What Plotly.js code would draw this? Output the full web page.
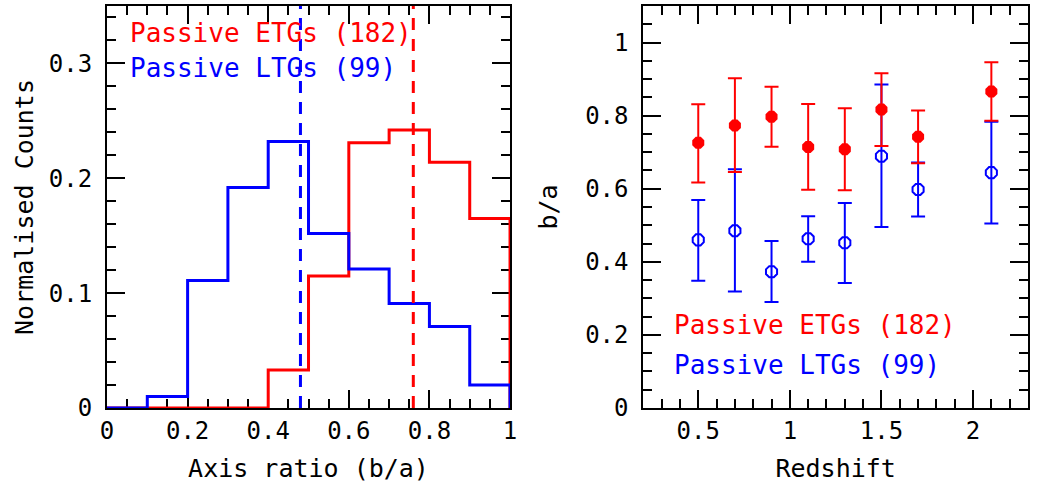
<!DOCTYPE html>
<html>
<head>
<meta charset="utf-8">
<script src="https://cdn.plot.ly/plotly-3.0.1.min.js"></script>
<style>html,body{margin:0;padding:0;background:#fff;}</style>
</head>
<body>
<div id="chart" style="width:1038px;height:491px;"></div>
<script>
// ---- Left panel: axis-ratio histograms ----
const binEdges = [0, 0.1, 0.2, 0.3, 0.4, 0.5, 0.6, 0.7, 0.8, 0.9, 1.0];
const etgFrac  = [0, 0, 0, 0, 0.033, 0.115, 0.231, 0.242, 0.214, 0.165];
const ltgFrac  = [0, 0.010, 0.111, 0.192, 0.232, 0.152, 0.121, 0.091, 0.071, 0.020];
const etgMedian = 0.76;
const ltgMedian = 0.48;

// ---- Right panel: b/a vs redshift ----
const redshift = [0.5, 0.7, 0.9, 1.1, 1.3, 1.5, 1.7, 2.1];
const etgBA = [0.726, 0.773, 0.797, 0.714, 0.708, 0.817, 0.742, 0.866];
const etgHi = [0.831, 0.902, 0.879, 0.832, 0.820, 0.916, 0.814, 0.946];
const etgLo = [0.617, 0.646, 0.715, 0.597, 0.596, 0.717, 0.670, 0.786];
const ltgBA = [0.460, 0.485, 0.373, 0.463, 0.452, 0.689, 0.598, 0.644];
const ltgHi = [0.569, 0.653, 0.457, 0.525, 0.561, 0.885, 0.672, 0.783];
const ltgLo = [0.348, 0.319, 0.290, 0.400, 0.342, 0.495, 0.524, 0.505];

const etgLabel = 'Passive ETGs (182)';
const ltgLabel = 'Passive LTGs (99)';

const RED = '#ff0000', BLUE = '#0000ff';
const FONT = 'DejaVu Sans Mono, Liberation Mono, monospace';

function stepY(frac) { return frac.concat([0]); }
function diff(a, b) { return a.map((v, i) => v - b[i]); }

const traces = [
  { x: binEdges, y: stepY(etgFrac), type: 'scatter', mode: 'lines',
    line: { shape: 'hv', color: RED, width: 3 }, cliponaxis: false,
    xaxis: 'x', yaxis: 'y', hoverinfo: 'skip' },
  { x: binEdges, y: stepY(ltgFrac), type: 'scatter', mode: 'lines',
    line: { shape: 'hv', color: BLUE, width: 3 }, cliponaxis: false,
    xaxis: 'x', yaxis: 'y', hoverinfo: 'skip' },
  { x: [ltgMedian, ltgMedian], y: [0, 0.35], type: 'scatter', mode: 'lines',
    line: { color: BLUE, width: 3, dash: '12px,9px' }, xaxis: 'x', yaxis: 'y' },
  { x: [etgMedian, etgMedian], y: [0, 0.35], type: 'scatter', mode: 'lines',
    line: { color: RED, width: 3, dash: '12px,9px' }, xaxis: 'x', yaxis: 'y' },
  { x: redshift, y: ltgBA, type: 'scatter', mode: 'markers',
    marker: { symbol: 'octagon-open', size: 12, color: BLUE, line: { width: 2, color: BLUE } },
    error_y: { type: 'data', symmetric: false, array: diff(ltgHi, ltgBA), arrayminus: diff(ltgBA, ltgLo),
               color: BLUE, thickness: 2, width: 7 },
    xaxis: 'x2', yaxis: 'y2', cliponaxis: false },
  { x: redshift, y: etgBA, type: 'scatter', mode: 'markers',
    marker: { symbol: 'octagon', size: 13, color: RED },
    error_y: { type: 'data', symmetric: false, array: diff(etgHi, etgBA), arrayminus: diff(etgBA, etgLo),
               color: RED, thickness: 2, width: 7 },
    xaxis: 'x2', yaxis: 'y2', cliponaxis: false }
];

function axis(extra) {
  return Object.assign({
    showline: true, linecolor: '#000', linewidth: 2, mirror: 'allticks',
    ticks: 'inside', ticklen: 18, tickwidth: 2, tickcolor: '#000',
    showgrid: false, zeroline: false, layer: 'below traces',
    tickfont: { family: FONT, size: 24, color: '#000' },
    fixedrange: true
  }, extra);
}
const minor = (d) => ({ ticks: 'inside', ticklen: 9, tickwidth: 2, tickcolor: '#000', dtick: d, showgrid: false });
const titleFont = { family: FONT, size: 25, color: '#000' };

const layout = {
  width: 1038, height: 491,
  margin: { l: 107, r: 10, t: 6, b: 83 },
  paper_bgcolor: '#fff', plot_bgcolor: '#fff',
  showlegend: false,
  font: { family: FONT, color: '#000' },
  xaxis: axis({ domain: [0, 0.4376], range: [0, 1], dtick: 0.2, tick0: 0, minor: minor(0.05),
    anchor: 'y', title: { text: 'Axis ratio (b/a)', font: titleFont, standoff: 16 } }),
  yaxis: axis({ domain: [0, 1], range: [0, 0.35], dtick: 0.1, tick0: 0, minor: minor(0.02),
    ticklabelstandoff: 8,
    anchor: 'x', title: { text: 'Normalised Counts', font: titleFont, standoff: 8 } }),
  xaxis2: axis({ domain: [0.5823, 1], range: [0.2, 2.3], dtick: 0.5, tick0: 0, minor: minor(0.1),
    anchor: 'y2', title: { text: 'Redshift', font: titleFont, standoff: 16 } }),
  yaxis2: axis({ domain: [0, 1], range: [0, 1.1], dtick: 0.2, tick0: 0, minor: minor(0.05),
    ticklabelstandoff: 8,
    anchor: 'x2', title: { text: 'b/a', font: titleFont, standoff: 20 } }),
  annotations: [
    { text: etgLabel, xref: 'x domain', yref: 'y domain', x: 0.052, y: 0.932, xanchor: 'left', yanchor: 'middle',
      showarrow: false, font: { family: FONT, size: 26, color: RED } },
    { text: ltgLabel, xref: 'x domain', yref: 'y domain', x: 0.052, y: 0.847, xanchor: 'left', yanchor: 'middle',
      showarrow: false, font: { family: FONT, size: 26, color: BLUE } },
    { text: etgLabel, xref: 'x2 domain', yref: 'y2 domain', x: 0.074, y: 0.207, xanchor: 'left', yanchor: 'middle',
      showarrow: false, font: { family: FONT, size: 26, color: RED } },
    { text: ltgLabel, xref: 'x2 domain', yref: 'y2 domain', x: 0.074, y: 0.108, xanchor: 'left', yanchor: 'middle',
      showarrow: false, font: { family: FONT, size: 26, color: BLUE } }
  ]
};

Plotly.newPlot('chart', traces, layout, { staticPlot: true, displayModeBar: false });
</script>
</body>
</html>
